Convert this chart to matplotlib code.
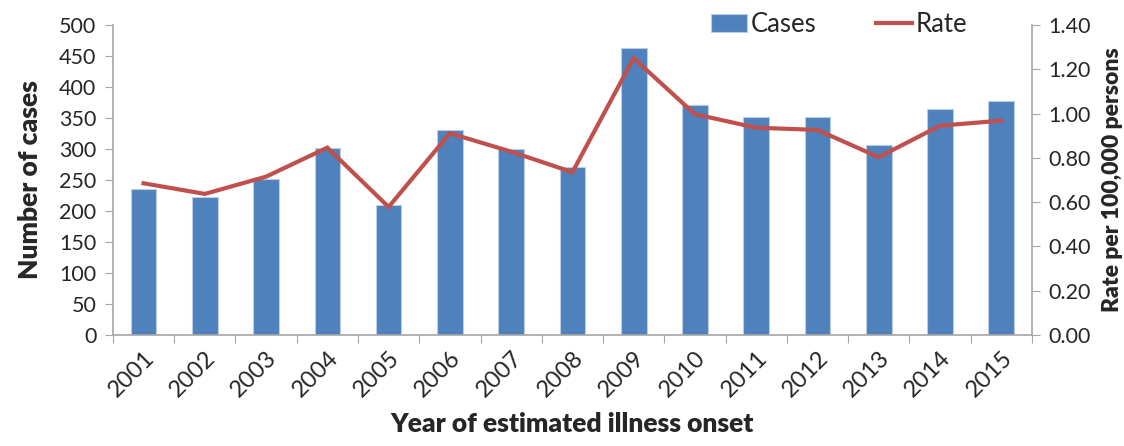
"""Cases and rate per 100,000 by year of estimated illness onset."""

import matplotlib
matplotlib.use("Agg")
import matplotlib.pyplot as plt
import numpy as np

plt.rcParams["font.family"] = ["Lato", "DejaVu Sans"]

years = ["2001", "2002", "2003", "2004", "2005", "2006", "2007", "2008",
         "2009", "2010", "2011", "2012", "2013", "2014", "2015"]
cases = [236, 223, 252, 302, 210, 330, 300, 271, 463, 371, 352, 351, 307, 364, 377]
rate = [0.685, 0.637, 0.715, 0.846, 0.578, 0.911, 0.828, 0.735,
        1.25, 0.997, 0.936, 0.926, 0.803, 0.945, 0.968]

BAR = "#4F81BD"
LINE = "#C0504D"
SPINE = "#A6A6A6"
TXT = "#262626"

fig = plt.figure(figsize=(11.24, 4.46), dpi=100)
ax = fig.add_axes([0.1005, 0.249, 0.8175, 0.695])
ax2 = ax.twinx()

x = np.arange(len(years))
ax.bar(x, cases, width=0.42, color=BAR, edgecolor="#B9CDE5", linewidth=0.8,
       label="Cases", zorder=2)
ax2.plot(x, rate, color=LINE, lw=3, label="Rate", solid_joinstyle="miter")

ax.set_xlim(-0.5, len(years) - 0.5)
ax.set_ylim(0, 500)
ax.set_yticks(range(0, 501, 50))
ax2.set_ylim(0, 1.4)
ax2.set_yticks(np.arange(0, 1.41, 0.2))
ax2.set_yticklabels([f"{v:.2f}" for v in np.arange(0, 1.41, 0.2)])

# category ticks sit between the bars, labels centred on them
ax.set_xticks(np.arange(-0.5, len(years), 1))
ax.set_xticklabels([])
ax.set_xticks(x, minor=True)
ax.set_xticklabels(years, minor=True, rotation=45, ha="right",
                   rotation_mode="anchor", fontsize=17, color=TXT)
ax.tick_params(axis="x", which="minor", length=0, pad=9)
ax.tick_params(axis="x", which="major", length=6, color=SPINE)

for a in (ax, ax2):
    for s in a.spines.values():
        s.set_visible(False)
ax.spines["left"].set_visible(True)
ax.spines["bottom"].set_visible(True)
ax2.spines["right"].set_visible(True)
for s in (ax.spines["left"], ax.spines["bottom"], ax2.spines["right"]):
    s.set_color(SPINE)
    s.set_linewidth(1.2)

ax.tick_params(axis="y", length=6, color=SPINE, labelsize=15.5, labelcolor=TXT, pad=6)
ax2.tick_params(axis="y", length=6, color=SPINE, labelsize=15.5, labelcolor=TXT, pad=6)

ax.set_ylabel("Number of cases", fontsize=19, fontweight="heavy", color=TXT, labelpad=12)
ax2.set_ylabel("Rate per 100,000 persons", fontsize=16.5, fontweight="heavy", color=TXT,
               labelpad=8)
ax.set_xlabel("Year of estimated illness onset", fontsize=19, fontweight="heavy",
              color=TXT, labelpad=8)

h1, l1 = ax.get_legend_handles_labels()
h2, l2 = ax2.get_legend_handles_labels()
fig.legend(h1 + h2, l1 + l2, loc="upper left", bbox_to_anchor=(0.612, 1.025),
           ncol=2, frameon=False, fontsize=18.5, handlelength=1.4,
           handletextpad=0.15, columnspacing=2.3, labelcolor=TXT)

fig.savefig("out.png", dpi=100)
